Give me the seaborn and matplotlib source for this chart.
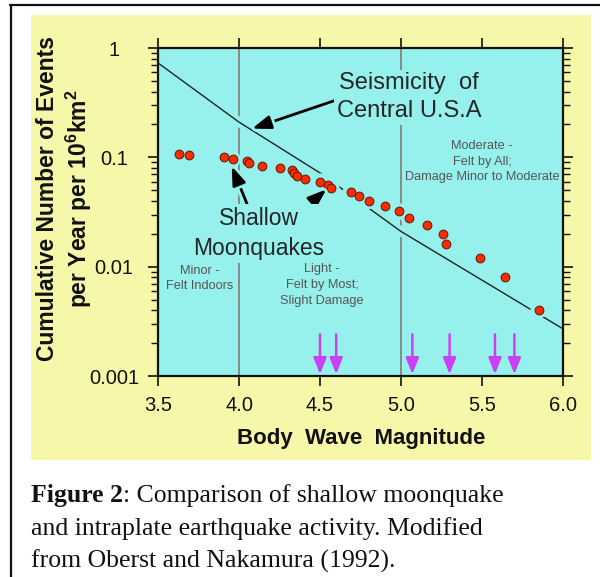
import numpy as np
import pandas as pd
import seaborn as sns
import matplotlib.pyplot as plt
from matplotlib.patches import Rectangle
from matplotlib.lines import Line2D
from matplotlib.ticker import FixedLocator, LogLocator, NullLocator, FuncFormatter
import matplotlib.patheffects as pe

# Shallow moonquakes (body wave magnitude vs cumulative events)
moon_mag = [3.63, 3.69, 3.91, 3.96, 4.05, 4.06, 4.14, 4.25, 4.33, 4.34, 4.36,
            4.41, 4.50, 4.55, 4.57, 4.69, 4.74, 4.80, 4.90, 4.99, 5.05, 5.16,
            5.26, 5.28, 5.49, 5.64, 5.85]
moon_rate = [0.108, 0.104, 0.101, 0.096, 0.093, 0.088, 0.084, 0.080, 0.076,
             0.072, 0.068, 0.064, 0.060, 0.056, 0.052, 0.048, 0.044, 0.040,
             0.036, 0.032, 0.028, 0.024, 0.020, 0.016, 0.012, 0.008, 0.004]

# Seismicity of central U.S.A.
usa_mag = [3.5, 4.0, 4.5, 5.0, 6.0]
usa_rate = [0.73, 0.21, 0.072, 0.021, 0.0027]

# magnitudes marked with magenta arrows
arrow_mag = [4.5, 4.6, 5.07, 5.3, 5.58, 5.7]

x_ticks = [3.5, 4.0, 4.5, 5.0, 5.5, 6.0]
y_ticks = [0.001, 0.01, 0.1, 1]
y_labels = ['0.001', '0.01', '0.1', '1']

CYAN = '#96f1ec'
YELLOW = '#f7f7a9'
GREY_TXT = '#555555'

sns.set_theme(style='ticks')
plt.rcParams['font.family'] = ['Liberation Sans', 'DejaVu Sans']
plt.rcParams['mathtext.fontset'] = 'custom'
plt.rcParams['mathtext.rm'] = 'Liberation Sans'
plt.rcParams['mathtext.bf'] = 'Liberation Sans:bold'

moon = pd.DataFrame({'mag': moon_mag, 'rate': moon_rate})
usa = pd.DataFrame({'mag': usa_mag, 'rate': usa_rate})

fig = plt.figure(figsize=(6, 5.77), dpi=100)
fig.patch.set_facecolor('white')

# yellow panel and the black frame lines
fig.patches.append(Rectangle((31 / 600, 1 - 460 / 577), 560 / 600, 445 / 577,
                             transform=fig.transFigure, facecolor=YELLOW,
                             edgecolor='none', zorder=-1))
fig.add_artist(Line2D([10 / 600, 1], [1 - 5 / 577] * 2, transform=fig.transFigure,
                      color='#111111', lw=1.6))
fig.add_artist(Line2D([11 / 600] * 2, [0, 1 - 5 / 577], transform=fig.transFigure,
                      color='#111111', lw=1.6))

ax = fig.add_axes([158 / 600, 1 - 376 / 577, 405 / 600, 328 / 577])
ax.set_facecolor(CYAN)
ax.set_yscale('log')
ax.set_xlim(3.5, 6.0)
ax.set_ylim(0.001, 1)

# magnitude class boundaries
for m in [4.0, 5.0]:
    ax.axvline(m, color='#8a8a8a', lw=1.4, zorder=1)

# seismicity line with a cyan halo
sns.lineplot(data=usa, x='mag', y='rate', ax=ax, color=CYAN, lw=7, zorder=2)
sns.lineplot(data=usa, x='mag', y='rate', ax=ax, color='#222222', lw=1.0, zorder=3)

# moonquakes with a cyan halo
sns.scatterplot(data=moon, x='mag', y='rate', ax=ax, color=CYAN, s=140,
                edgecolor='none', zorder=4)
sns.scatterplot(data=moon, x='mag', y='rate', ax=ax, color='#ff2a00', s=40,
                edgecolor='#5a1a00', linewidth=0.7, zorder=5)

# magenta arrows along the bottom
for m in arrow_mag:
    ax.annotate('', xy=(m, 0.00104), xytext=(m, 0.0024),
                arrowprops=dict(arrowstyle='-|>,head_length=0.75,head_width=0.3',
                                mutation_scale=13, lw=1.8, color='#cc40f5',
                                shrinkA=0, shrinkB=0), zorder=6)

halo = [pe.withStroke(linewidth=6, foreground=CYAN)]
arrow_kw = dict(arrowstyle='-|>,head_length=0.75,head_width=0.27', mutation_scale=15,
                lw=2, color='black', shrinkA=0, shrinkB=0, path_effects=halo)

ax.annotate('', xy=(4.08, 0.183), xytext=(4.64, 0.35), arrowprops=arrow_kw, zorder=7)
ax.annotate('', xy=(3.955, 0.083), xytext=(4.056, 0.0355), arrowprops=arrow_kw, zorder=7)
ax.annotate('', xy=(4.54, 0.051), xytext=(4.377, 0.0313), arrowprops=arrow_kw, zorder=7)

box = dict(facecolor=CYAN, edgecolor='none', pad=2)
ax.text(5.05, 0.354, 'Seismicity  of\nCentral U.S.A', fontsize=17, ha='center',
        va='center', linespacing=1.35, bbox=box, zorder=8)
ax.text(4.123, 0.0201, 'Shallow\nMoonquakes', fontsize=16.5, ha='center',
        va='center', linespacing=1.4, bbox=box, zorder=8)

ax.text(3.76, 0.0078, 'Minor -\nFelt Indoors', fontsize=9.2, color=GREY_TXT,
        ha='center', va='center', linespacing=1.4, zorder=8)
ax.text(4.512, 0.0068, 'Light -\nFelt by Most;\nSlight Damage', fontsize=9.2,
        color=GREY_TXT, ha='center', va='center', linespacing=1.4, zorder=8)
ax.text(5.5, 0.0914, 'Moderate -\nFelt by All;\nDamage Minor to Moderate', fontsize=9.2,
        color=GREY_TXT, ha='center', va='center', linespacing=1.4, zorder=8)

# axes, ticks, labels
for s in ax.spines.values():
    s.set_linewidth(1.6)
    s.set_color('#111111')
ax.xaxis.set_major_locator(FixedLocator(x_ticks))
ax.xaxis.set_minor_locator(NullLocator())
ax.xaxis.set_major_formatter(FuncFormatter(lambda v, p: f'{v:.1f}'))
ax.yaxis.set_major_locator(FixedLocator(y_ticks))
ax.yaxis.set_minor_locator(LogLocator(base=10, subs=np.arange(2, 10)))
ax.set_yticklabels(y_labels)
ax.yaxis.set_minor_formatter(FuncFormatter(lambda v, p: ''))
ax.tick_params(which='both', direction='out', top=True, right=True, color='#111111')
ax.tick_params(which='major', length=7.5, width=1.2, labelsize=14.5, labelcolor='#111111')
ax.tick_params(which='minor', length=5, width=1.0)
ax.tick_params(axis='x', pad=7)
ax.tick_params(axis='y', pad=24)
for t in ax.get_yticklabels():
    t.set_ha('center')

ax.set_xlabel('Body  Wave  Magnitude', fontsize=16, fontweight='bold',
              color='#111111', va='center')
ax.xaxis.set_label_coords(0.501, -0.192)
ax.set_ylabel('Cumulative Number of Events\nper Year per 10$^{\\mathbf{6}}$km$^{\\mathbf{2}}$',
              fontsize=16.5, fontweight='bold', color='#111111', va='center',
              linespacing=1.2)
ax.yaxis.set_label_coords(-0.2296, 0.54)

# caption below the panel
cap = dict(family=['Liberation Serif', 'DejaVu Serif'], fontsize=18.5, color='#111111',
           va='baseline')
t1 = fig.text(31 / 600, 1 - 502 / 577, 'Figure 2', fontweight='bold', **cap)
ax.annotate(': Comparison of shallow moonquake', xy=(1, 0), xycoords=t1,
            va='bottom', ha='left', annotation_clip=False,
            family=['Liberation Serif', 'DejaVu Serif'], fontsize=18.5, color='#111111')
fig.text(31 / 600, 1 - 535 / 577, 'and intraplate earthquake activity. Modified', **cap)
fig.text(31 / 600, 1 - 568 / 577, 'from Oberst and Nakamura (1992).', **cap)

fig.savefig('out.png', dpi=100)
